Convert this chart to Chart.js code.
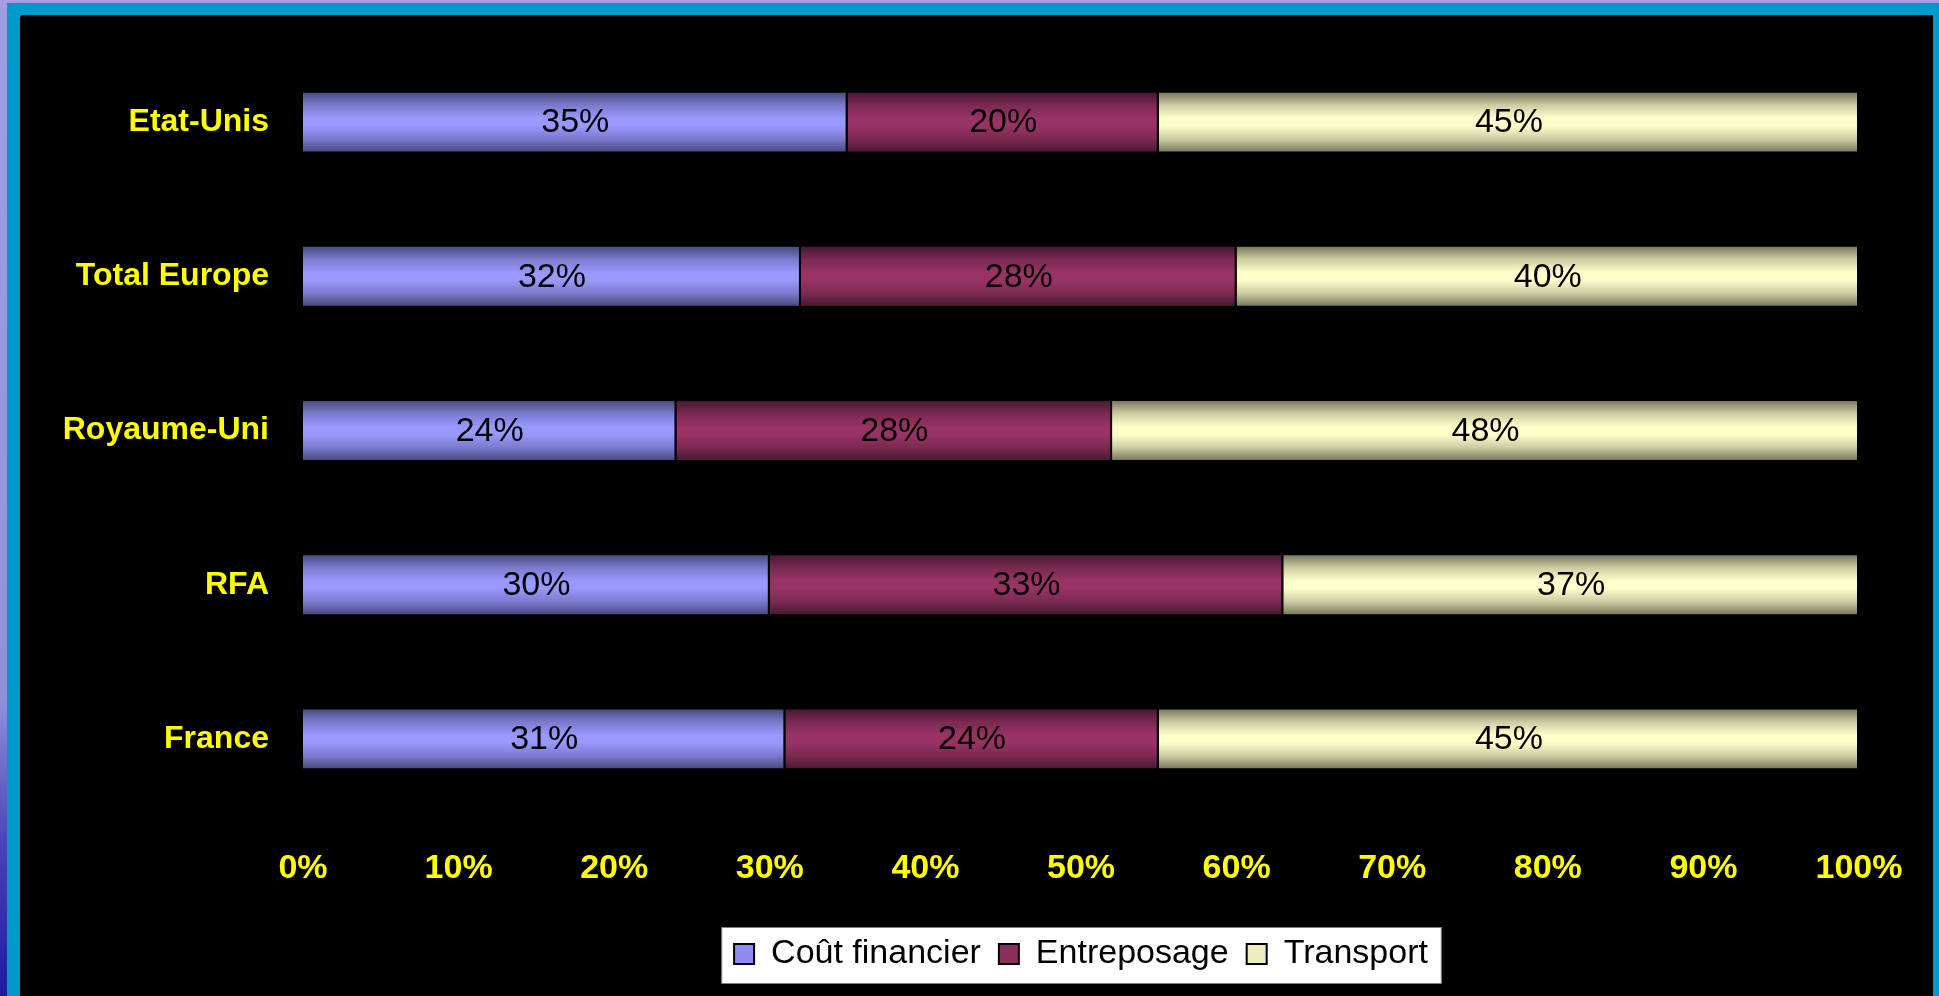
<!DOCTYPE html>
<html>
<head>
<meta charset="utf-8">
<script src="https://cdn.jsdelivr.net/npm/chart.js@4/dist/chart.umd.min.js"></script>
<style>
  html, body { margin: 0; padding: 0; }
  body {
    width: 1939px; height: 996px; overflow: hidden; position: relative;
    background: linear-gradient(to bottom, #a39de2 0%, #958fd8 70%, #4a40b8 85%, #2218a0 100%);
  }
  #frame { position: absolute; left: 7px; top: 3px; right: 0; bottom: 0; background: #0099cc; }
  #wrap { position: absolute; left: 20px; top: 15px; width: 1913px; height: 981px; background: #000; border-top-left-radius: 3px; }
</style>
</head>
<body>
<div id="frame"></div>
<div id="wrap"><canvas id="costChart"></canvas></div>
<script>
// pays (du haut vers le bas)
const pays = ['Etat-Unis', 'Total Europe', 'Royaume-Uni', 'RFA', 'France'];

// parts en %
const coutFinancier = [35, 32, 24, 30, 31];
const entreposage = [20, 28, 28, 33, 24];
const transport = [45, 40, 48, 37, 45];

const seriesNames = ['Coût financier', 'Entreposage', 'Transport'];
const xTicks = [0, 10, 20, 30, 40, 50, 60, 70, 80, 90, 100];

const BAR_SHARE = 0.395;

const palette = [
  { light: '#9999ff', mid: '#7a7acc', edge: '#47477a', flat: '#8c8cf0' },
  { light: '#993366', mid: '#7a2952', edge: '#451830', flat: '#8a2e5c' },
  { light: '#ffffcc', mid: '#cccca3', edge: '#737358', flat: '#ececbc' }
];

function barFill(c, col) {
  const chart = c.chart;
  const area = chart.chartArea;
  if (!area || c.type !== 'data') return col.flat;
  const y = chart.scales.y.getPixelForValue(c.dataIndex);
  const half = (area.bottom - area.top) / pays.length * BAR_SHARE / 2;
  const g = chart.ctx.createLinearGradient(0, y - half, 0, y + half);
  g.addColorStop(0, col.edge);
  g.addColorStop(0.22, col.mid);
  g.addColorStop(0.44, col.light);
  g.addColorStop(0.56, col.light);
  g.addColorStop(0.78, col.mid);
  g.addColorStop(1, col.edge);
  return g;
}

function makeDataset(label, data, col) {
  return {
    label: label,
    data: data,
    backgroundColor: (c) => barFill(c, col),
    borderColor: '#000',
    borderWidth: { top: 1, bottom: 1, right: 2 },
    categoryPercentage: BAR_SHARE,
    barPercentage: 1
  };
}

// etiquettes au centre des barres
const barLabels = {
  id: 'barLabels',
  afterDatasetsDraw(chart) {
    const ctx = chart.ctx;
    ctx.save();
    ctx.font = '34px "Liberation Sans", Arial, sans-serif';
    ctx.fillStyle = '#000';
    ctx.textAlign = 'center';
    ctx.textBaseline = 'middle';
    chart.data.datasets.forEach((ds, i) => {
      chart.getDatasetMeta(i).data.forEach((bar, j) => {
        const p = bar.getProps(['x', 'y', 'base'], true);
        ctx.fillText(ds.data[j] + '%', (p.x + p.base) / 2, p.y + 1);
      });
    });
    ctx.restore();
  }
};

// cadre blanc de la légende
const legendBox = {
  id: 'legendBox',
  beforeDraw(chart) {
    const boxes = chart.legend && chart.legend.legendHitBoxes;
    if (!boxes || !boxes.length) return;
    let l = Infinity, r = -Infinity, t = Infinity;
    boxes.forEach(b => {
      l = Math.min(l, b.left);
      r = Math.max(r, b.left + b.width);
      t = Math.min(t, b.top);
    });
    const ctx = chart.ctx;
    ctx.save();
    ctx.fillStyle = '#fff';
    ctx.strokeStyle = '#808080';
    ctx.lineWidth = 1;
    ctx.fillRect(l - 12, t - 9, r - l + 25, 55);
    ctx.strokeRect(l - 12.5, t - 9.5, r - l + 26, 56);
    ctx.restore();
  }
};

const ctx = document.getElementById('costChart').getContext('2d');
new Chart(ctx, {
  type: 'bar',
  data: {
    labels: pays,
    datasets: [
      makeDataset(seriesNames[0], coutFinancier, palette[0]),
      makeDataset(seriesNames[1], entreposage, palette[1]),
      makeDataset(seriesNames[2], transport, palette[2])
    ]
  },
  plugins: [barLabels, legendBox],
  options: {
    indexAxis: 'y',
    responsive: true,
    maintainAspectRatio: false,
    animation: false,
    layout: { padding: { top: 30, right: 74, left: 0, bottom: 15 } },
    scales: {
      x: {
        stacked: true,
        min: 0,
        max: 100,
        afterBuildTicks: (scale) => { scale.ticks = xTicks.map(v => ({ value: v })); },
        afterFit: (scale) => {
          scale.height = 103;
          scale.paddingLeft = 0;
          scale.paddingRight = 0;
        },
        grid: { display: false, drawTicks: false },
        border: { display: false },
        ticks: {
          color: '#ffff00',
          padding: 32,
          maxRotation: 0,
          font: { family: '"Liberation Sans", Arial, sans-serif', size: 34, weight: 'bold' },
          callback: (v) => v + '%'
        }
      },
      y: {
        stacked: true,
        afterFit: (scale) => {
          scale.width = 283;
          scale.paddingTop = 0;
          scale.paddingBottom = 0;
        },
        grid: { display: false, drawTicks: false },
        border: { display: false },
        ticks: {
          color: '#ffff00',
          padding: 34,
          font: { family: '"Liberation Sans", Arial, sans-serif', size: 32, weight: 'bold' }
        }
      }
    },
    plugins: {
      tooltip: { enabled: false },
      legend: {
        position: 'bottom',
        fullSize: false,
        labels: {
          color: '#000',
          boxWidth: 20,
          boxHeight: 20,
          padding: 18,
          font: { family: '"Liberation Sans", Arial, sans-serif', size: 34 },
          generateLabels: (chart) => {
            const items = Chart.defaults.plugins.legend.labels.generateLabels(chart);
            items.forEach((it, i) => {
              it.fillStyle = palette[i].flat;
              it.strokeStyle = '#000';
              it.lineWidth = 2;
            });
            return items;
          }
        }
      }
    }
  }
});
</script>
</body>
</html>
